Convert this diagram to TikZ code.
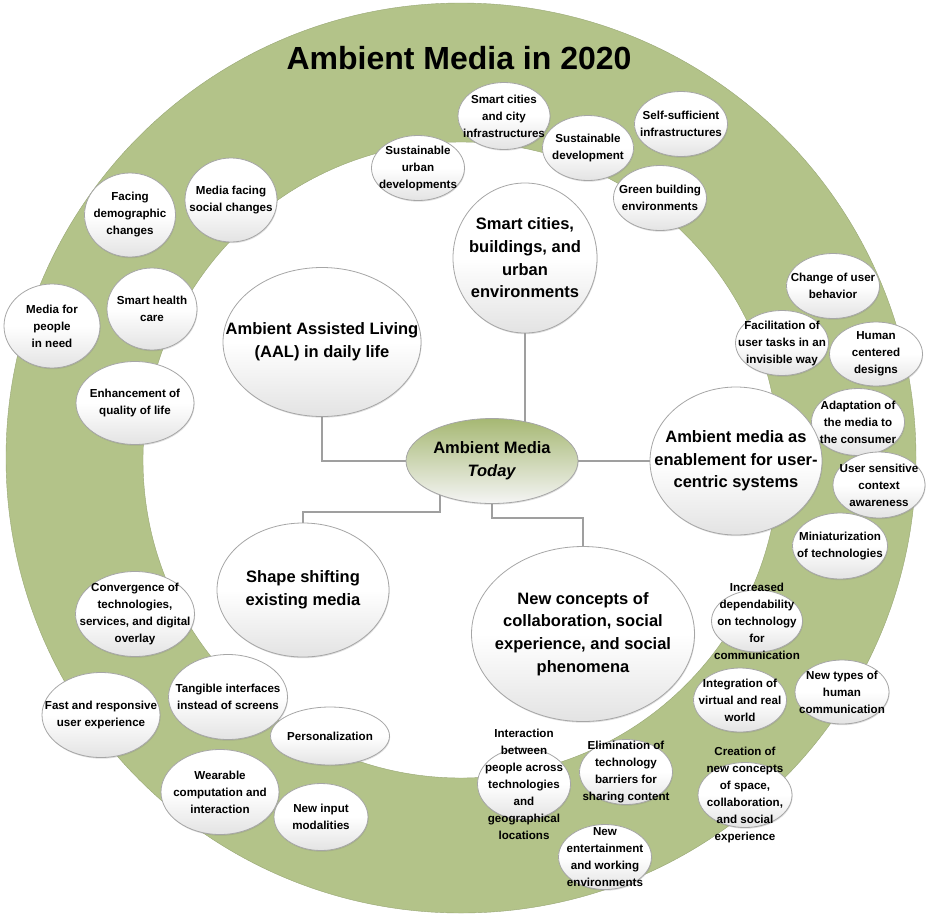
\documentclass[tikz,border=0pt]{standalone}
\usepackage{fontspec}
\setmainfont{Liberation Sans}
\usepackage{xcolor}
\usetikzlibrary{shapes.geometric,shadows,backgrounds}
\definecolor{ringgreen}{HTML}{B3C389}
\definecolor{hubgreen}{HTML}{A6B873}

\begin{document}
\begin{tikzpicture}[x=1pt,y=-1pt,
  bubble/.style={ellipse,draw=gray!70,line width=0.8pt,top color=white,bottom color=gray!22,middle color=white,
    inner sep=-30pt,align=center,font=\fontsize{11.6}{17}\selectfont\bfseries,
    drop shadow={shadow xshift=0.6pt,shadow yshift=-1.2pt,opacity=0.25}},
  topic/.style={bubble,font=\fontsize{16.5}{22.7}\selectfont\bfseries},
  link/.style={draw=gray!75,line width=1.3pt}]
  \useasboundingbox (0,0) rectangle (929,914);
  % green ring
  \fill[ringgreen,even odd rule] (461,458) circle (455pt) (461,460) circle (318pt);
  \draw[ringgreen!85!black,line width=0.4pt] (461,458) circle (455pt) (461,460) circle (318pt);
  \node[font=\fontsize{32}{38}\selectfont\bfseries] (title) at (459,58) {Ambient Media in 2020};

  % outer bubbles
  \foreach \n/\x/\y/\w/\h/\t in {
    sud/418/168/93/65/{Sustainable\\urban\\developments},
    msc/231/200/92/84/{Media facing\\social changes},
    fdc/130/215/91/84/{Facing\\demographic\\changes},
    shc/152/309/90/82/{Smart health\\care},
    mpn/52/326/96/84/{Media for\\people\\in need},
    eql/135/403/118/83/{Enhancement of\\quality of life},
    sci/504/116/92/67/{Smart cities\\and city\\infrastructures},
    sdv/588/148/91/65/{Sustainable\\development},
    ssi/681/124/93/65/{Self-sufficient\\infrastructures},
    gbe/660/198/93/65/{Green building\\environments},
    cub/833/286/93/65/{Change of user\\behavior},
    fut/782/343/93/65/{Facilitation of\\user tasks in an\\invisible way},
    hcd/876/354/93/64/{Human\\centered\\designs},
    amc/858/422/93/67/{Adaptation of\\the media to\\the consumer},
    usc/879/485/92/66/{User sensitive\\context\\awareness},
    mot/840/546/95/66/{Miniaturization\\of technologies},
    idt/757/621/91/62/{Increased\\dependability\\on technology\\for\\communication},
    nth/842/692/94/64/{New types of\\human\\communication},
    ivr/740/700/93/64/{Integration of\\virtual and real\\world},
    cnc/745/795/94/65/{Creation of\\new concepts\\of space,\\collaboration,\\and social\\experience},
    etb/626/772/93/65/{Elimination of\\technology\\barriers for\\sharing content},
    ipa/524/784/93/64/{Interaction\\between\\people across\\technologies\\and\\geographical\\locations},
    nwe/605/857/93/65/{New\\entertainment\\and working\\environments},
    ctd/135/614/119/85/{Convergence of\\technologies,\\services, and digital\\overlay},
    frx/101/715/118/85/{Fast and responsive\\user experience},
    tis/228/697/119/85/{Tangible interfaces\\instead of screens},
    per/330/736/119/58/{Personalization},
    wci/220/792/118/85/{Wearable\\computation and\\interaction},
    nim/321/817/94/67/{New input\\modalities}}{
    \node[bubble,minimum width=\w pt,minimum height=\h pt] (\n) at (\x,\y) {\t};
  }

  % main topics
  \node[topic,minimum width=198pt,minimum height=149pt] (aal) at (322,342) {Ambient Assisted Living\\(AAL) in daily life};
  \node[topic,minimum width=144pt,minimum height=150pt] (smart) at (525,258) {Smart cities,\\buildings, and\\urban\\environments};
  \node[topic,minimum width=172pt,minimum height=148pt] (enable) at (736,461) {Ambient media as\\enablement for user-\\centric systems};
  \node[topic,minimum width=223pt,minimum height=175pt] (newc) at (583,634) {New concepts of\\collaboration, social\\experience, and social\\phenomena};
  \node[topic,minimum width=172pt,minimum height=134pt] (shape) at (303,590) {Shape shifting\\existing media};
  \node[topic,minimum width=172pt,minimum height=85pt,top color=hubgreen,bottom color=gray!8] (today) at (492,461) {Ambient Media\\\textit{Today}};

  \begin{pgfonlayer}{background}
    \draw[link] (today.center) -| (aal.center);
    \draw[link] (smart.center) -- (smart.center |- today.center);
    \draw[link] (today.center) -- (enable.center);
    \draw[link] ([xshift=-52pt]today.center) -- ++(0,51) -| (shape.north);
    \draw[link] (today.center) -- ++(0,57) -| (newc.north);
  \end{pgfonlayer}
\end{tikzpicture}
\end{document}
